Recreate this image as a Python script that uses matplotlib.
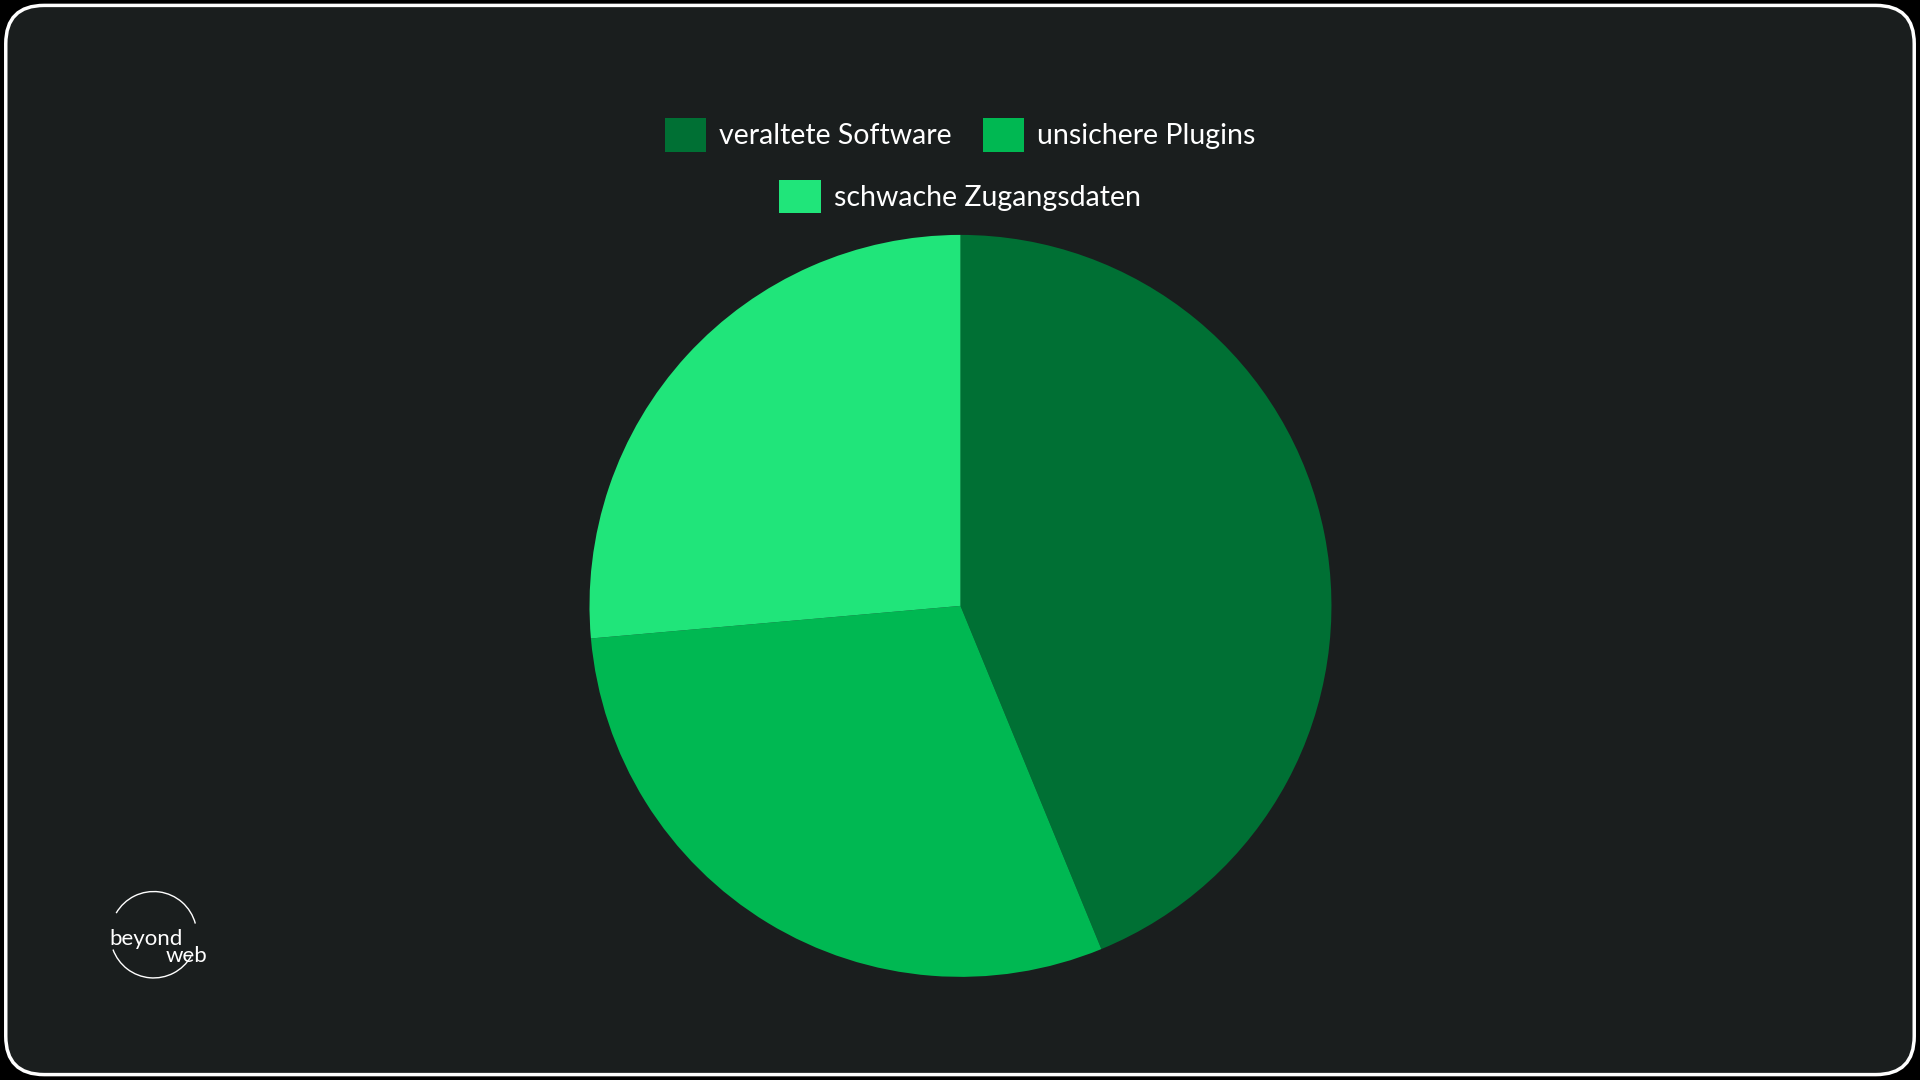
import matplotlib
matplotlib.use("Agg")
import matplotlib.pyplot as plt
from matplotlib.patches import FancyBboxPatch, Patch, Arc

labels = ["veraltete Software", "unsichere Plugins", "schwache Zugangsdaten"]
values = [43.8, 29.8, 26.4]
colors = ["#007034", "#00b852", "#20e57a"]
bg = "#1a1e1e"

plt.rcParams['font.family'] = ['Lato', 'DejaVu Sans']
fig = plt.figure(figsize=(19.2, 10.8), dpi=100)
fig.patch.set_facecolor("black")
fig.patches.append(FancyBboxPatch((0.003, 0.005), 0.994, 0.99, boxstyle="round,pad=0,rounding_size=0.02",
                                  transform=fig.transFigure, facecolor=bg, edgecolor="white", linewidth=2.5,
                                  mutation_aspect=1920/1080, zorder=-10))

ax = fig.add_axes([0.307, 0.0955, 0.3865, 0.687])
ax.set_facecolor("none")
ax.pie(values, colors=colors, startangle=90, counterclock=False, wedgeprops=dict(linewidth=0))
ax.set_xlim(-1, 1); ax.set_ylim(-1, 1)
ax.set_aspect("equal")

handles = [Patch(facecolor=c, edgecolor="none") for c in colors]
kw = dict(frameon=False, prop=dict(size=20.5), labelcolor="white", handlelength=1.45, handleheight=1.45,
          handletextpad=0.45, columnspacing=1.1, loc="center")
fig.legend(handles[:2], labels[:2], ncol=2, bbox_to_anchor=(0.5, 0.875), **kw)
fig.legend(handles[2:], labels[2:], ncol=1, bbox_to_anchor=(0.5, 0.818), **kw)

fig.text(0.057, 0.131, "beyond", color="white", fontsize=16, ha="left", va="center")
fig.text(0.108, 0.115, "web", color="white", fontsize=16, ha="right", va="center")
lax = fig.add_axes([0.055, 0.09, 0.05, 0.089])
lax.set_axis_off()
lax.set_facecolor("none")
lax.add_patch(Arc((0.5, 0.5), 0.9, 0.9, theta1=15, theta2=150, color="white", lw=1))
lax.add_patch(Arc((0.5, 0.5), 0.9, 0.9, theta1=200, theta2=330, color="white", lw=1))
lax.set_xlim(0, 1); lax.set_ylim(0, 1); lax.set_aspect("equal")

fig.savefig("out.png", dpi=100, facecolor=fig.get_facecolor())
